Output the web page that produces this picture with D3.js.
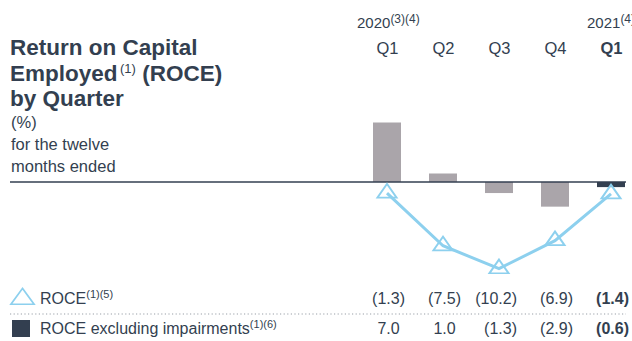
<!DOCTYPE html>
<html>
<head>
<meta charset="utf-8">
<script src="https://cdn.jsdelivr.net/npm/d3@7"></script>
<style>
  html, body { margin: 0; padding: 0; background: #fff; }
  svg { display: block; font-family: "Liberation Sans", Arial, sans-serif; }
</style>
</head>
<body>
<svg id="chart" width="632" height="341"></svg>
<script>
// Quarterly ROCE, trailing twelve months (%)
const quarters = ["Q1 2020", "Q2 2020", "Q3 2020", "Q4 2020", "Q1 2021"];
const quarterLabels = ["Q1", "Q2", "Q3", "Q4", "Q1"];
const roce = [-1.3, -7.5, -10.2, -6.9, -1.4];
const roceExImpairments = [7.0, 1.0, -1.3, -2.9, -0.6];

const textColor = "#333f50";
const barGray = "#aaa5aa";
const barDark = "#333f50";
const lineBlue = "#8dd0ee";

const svg = d3.select("#chart");

const x = d3.scalePoint().domain(quarters).range([387, 611]);
const y = d3.scaleLinear().domain([-12, 8]).range([284, 114]);
const barW = 28;

// Title block
const title = svg.append("g").attr("fill", textColor);
const tl = title.append("text").attr("font-weight", "bold").attr("font-size", 22.5);
tl.append("tspan").attr("x", 10).attr("y", 55).text("Return on Capital");
tl.append("tspan").attr("x", 10).attr("y", 81).text("Employed");
tl.append("tspan").attr("font-weight", "normal").attr("font-size", 13).attr("dy", -8).attr("dx", 2.5).text("(1)");
tl.append("tspan").attr("dy", 8).text(" (ROCE)");
tl.append("tspan").attr("x", 10).attr("y", 106).text("by Quarter");

const sub = title.append("text").attr("font-size", 16.5);
sub.append("tspan").attr("x", 11).attr("y", 128).text("(%)");
sub.append("tspan").attr("x", 11).attr("y", 150).text("for the twelve");
sub.append("tspan").attr("x", 11).attr("y", 172).text("months ended");

// Year headers
const yr1 = svg.append("text").attr("x", 357).attr("y", 28).attr("fill", textColor).attr("font-size", 15);
yr1.append("tspan").text("2020");
yr1.append("tspan").attr("font-size", 12).attr("dy", -5).text("(3)(4)");
const yr2 = svg.append("text").attr("x", 587).attr("y", 28).attr("fill", textColor).attr("font-size", 15);
yr2.append("tspan").text("2021");
yr2.append("tspan").attr("font-size", 12).attr("dy", -5).text("(4)");

// Quarter axis along the top
const xAxis = d3.axisTop(x).tickSize(0).tickFormat((d, i) => quarterLabels[i]);
const axisG = svg.append("g").attr("transform", "translate(0,54)").call(xAxis);
axisG.select(".domain").remove();
axisG.selectAll("text")
  .attr("fill", textColor)
  .attr("font-size", 16.5)
  .attr("font-family", "Liberation Sans, Arial, sans-serif")
  .attr("y", 0)
  .attr("font-weight", (d, i) => i === quarters.length - 1 ? "bold" : "normal");

// Bars: ROCE excluding impairments
svg.append("g").selectAll("rect")
  .data(roceExImpairments)
  .join("rect")
  .attr("x", (d, i) => x(quarters[i]) - barW / 2)
  .attr("width", barW)
  .attr("y", d => Math.min(y(d), y(0)))
  .attr("height", d => Math.abs(y(d) - y(0)))
  .attr("fill", (d, i) => i === quarters.length - 1 ? barDark : barGray);

// Zero baseline
svg.append("line")
  .attr("x1", 10).attr("x2", 626)
  .attr("y1", y(0)).attr("y2", y(0))
  .attr("stroke", textColor).attr("stroke-width", 1.5);

// ROCE line with hollow triangle markers
const line = d3.line().x((d, i) => x(quarters[i])).y(d => y(d));
svg.append("path")
  .datum(roce)
  .attr("d", line)
  .attr("fill", "none")
  .attr("stroke", lineBlue)
  .attr("stroke-width", 3);

const tri = d3.symbol().type(d3.symbolTriangle).size(120);
svg.append("g").selectAll("path")
  .data(roce)
  .join("path")
  .attr("d", tri)
  .attr("transform", (d, i) => `translate(${x(quarters[i])},${y(d)}) scale(1.15,0.95)`)
  .attr("fill", "none")
  .attr("stroke", lineBlue)
  .attr("stroke-width", 1.8);

// Value table
const fmt = v => v < 0 ? `(${Math.abs(v).toFixed(1)})` : v.toFixed(1);
const rows = [
  { values: roce, yPos: 304 },
  { values: roceExImpairments, yPos: 334 }
];
rows.forEach(r => {
  svg.append("g").selectAll("text")
    .data(r.values)
    .join("text")
    .attr("x", (d, i) => x(quarters[i]) + 18 - (d < 0 ? 0 : 5.3))
    .attr("y", r.yPos)
    .attr("text-anchor", "end")
    .attr("font-size", 16)
    .attr("fill", textColor)
    .attr("font-weight", (d, i) => i === quarters.length - 1 ? "bold" : "normal")
    .text(fmt);
});

// Row legends
svg.append("path")
  .attr("d", tri)
  .attr("transform", "translate(22.5,299) scale(1.4,1.1)")
  .attr("fill", "none")
  .attr("stroke", lineBlue)
  .attr("stroke-width", 1.3);
const lg1 = svg.append("text").attr("x", 40).attr("y", 304).attr("font-size", 16).attr("fill", textColor);
lg1.append("tspan").text("ROCE");
lg1.append("tspan").attr("font-size", 11).attr("dy", -6).text("(1)(5)");

svg.append("line")
  .attr("x1", 10).attr("x2", 626)
  .attr("y1", 314).attr("y2", 314)
  .attr("stroke", "#9aa0a8").attr("stroke-width", 1.2)
  .attr("stroke-dasharray", "1.2,2.4");

svg.append("rect")
  .attr("x", 12).attr("y", 320).attr("width", 18).attr("height", 17)
  .attr("fill", barDark);
const lg2 = svg.append("text").attr("x", 40).attr("y", 334).attr("font-size", 16).attr("fill", textColor);
lg2.append("tspan").text("ROCE excluding impairments");
lg2.append("tspan").attr("font-size", 11).attr("dy", -6).text("(1)(6)");
</script>
</body>
</html>
